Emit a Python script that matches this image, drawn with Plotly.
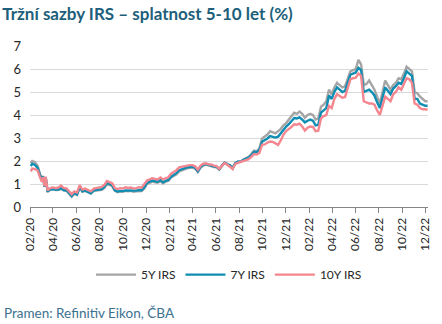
import plotly.graph_objects as go

dates = [
"2020-02-03","2020-02-07","2020-02-14","2020-02-21","2020-02-27","2020-03-03","2020-03-06","2020-03-10","2020-03-13","2020-03-18",
"2020-03-25","2020-04-01","2020-04-09","2020-04-17","2020-04-22","2020-04-29","2020-05-07","2020-05-14","2020-05-20","2020-05-27",
"2020-06-03","2020-06-10","2020-06-17","2020-06-24","2020-07-01","2020-07-09","2020-07-17","2020-07-24","2020-07-31","2020-08-07",
"2020-08-14","2020-08-20","2020-08-27","2020-09-03","2020-09-10","2020-09-17","2020-09-24","2020-10-01","2020-10-08","2020-10-15",
"2020-10-22","2020-10-29","2020-11-05","2020-11-12","2020-11-19","2020-11-26","2020-12-03","2020-12-10","2020-12-17","2020-12-24",
"2020-12-31","2021-01-07","2021-01-14","2021-01-21","2021-01-28","2021-02-04","2021-02-11","2021-02-18","2021-02-25","2021-03-04",
"2021-03-11","2021-03-18","2021-03-25","2021-04-01","2021-04-08","2021-04-15","2021-04-22","2021-04-29","2021-05-06","2021-05-13",
"2021-05-20","2021-05-27","2021-06-03","2021-06-10","2021-06-17","2021-06-24","2021-07-01","2021-07-08","2021-07-15","2021-07-22",
"2021-07-29","2021-08-05","2021-08-12","2021-08-19","2021-08-26","2021-09-02","2021-09-09","2021-09-16","2021-09-23","2021-09-30",
"2021-10-07","2021-10-14","2021-10-21","2021-10-28","2021-11-04","2021-11-11","2021-11-18","2021-11-25","2021-12-02","2021-12-09",
"2021-12-16","2021-12-23","2021-12-30","2022-01-06","2022-01-13","2022-01-20","2022-01-27","2022-02-03","2022-02-10","2022-02-17",
"2022-02-24","2022-03-03","2022-03-10","2022-03-17","2022-03-24","2022-03-31","2022-04-07","2022-04-14","2022-04-21","2022-04-28",
"2022-05-05","2022-05-12","2022-05-19","2022-05-26","2022-06-02","2022-06-09","2022-06-16","2022-06-23","2022-06-30","2022-07-07",
"2022-07-14","2022-07-21","2022-07-28","2022-08-04","2022-08-11","2022-08-18","2022-08-25","2022-09-01","2022-09-08","2022-09-15",
"2022-09-22","2022-09-29","2022-10-06","2022-10-13","2022-10-20","2022-10-27","2022-11-03","2022-11-10","2022-11-17","2022-11-24",
"2022-12-01","2022-12-07"]

irs5 = [
1.90,2.00,1.95,1.78,1.45,1.20,1.35,0.90,1.30,0.68,
0.75,0.78,0.74,0.75,0.80,0.72,0.70,0.58,0.45,0.58,
0.52,0.84,0.66,0.70,0.65,0.58,0.70,0.72,0.74,0.75,
0.84,1.00,0.96,0.90,0.70,0.64,0.68,0.66,0.70,0.68,
0.70,0.66,0.68,0.70,0.69,0.80,1.00,1.05,1.10,1.07,
1.05,1.12,1.03,1.10,1.14,1.28,1.36,1.42,1.55,1.60,
1.65,1.68,1.70,1.72,1.67,1.52,1.70,1.80,1.84,1.80,
1.78,1.74,1.72,1.62,1.78,1.92,1.86,1.80,1.66,1.90,
1.98,1.98,2.05,2.10,2.18,2.30,2.45,2.42,2.55,2.98,
3.05,3.15,3.30,3.25,3.20,3.30,3.40,3.55,3.65,3.80,
3.95,4.10,4.05,4.15,4.05,3.88,4.00,4.05,4.00,3.80,
3.85,4.35,4.45,4.60,5.10,4.90,5.20,5.40,5.30,5.20,
5.25,5.60,5.90,5.95,6.00,6.40,6.20,5.30,5.35,5.50,
5.30,5.10,4.80,4.50,5.00,5.50,5.30,5.10,5.30,5.40,
5.60,5.55,5.80,6.10,6.00,5.90,5.00,4.95,4.80,4.70,
4.60,4.60]

irs7 = [
1.78,1.88,1.83,1.70,1.39,1.18,1.33,0.88,1.30,0.67,
0.76,0.78,0.75,0.77,0.82,0.74,0.72,0.60,0.48,0.60,
0.55,0.88,0.68,0.72,0.67,0.60,0.72,0.74,0.76,0.78,
0.88,1.05,1.00,0.95,0.72,0.67,0.70,0.69,0.72,0.71,
0.73,0.69,0.71,0.74,0.73,0.86,1.05,1.10,1.15,1.12,
1.10,1.17,1.07,1.14,1.18,1.32,1.40,1.47,1.60,1.64,
1.70,1.72,1.74,1.75,1.70,1.55,1.75,1.84,1.87,1.83,
1.82,1.77,1.75,1.64,1.80,1.93,1.87,1.82,1.70,1.92,
1.97,1.97,2.05,2.10,2.15,2.26,2.40,2.38,2.48,2.84,
2.90,2.98,3.08,3.05,3.02,3.06,3.20,3.38,3.50,3.60,
3.72,3.87,3.85,3.90,3.80,3.68,3.75,3.80,3.75,3.55,
3.58,4.10,4.20,4.30,4.85,4.70,5.00,5.20,5.10,5.00,
5.05,5.40,5.75,5.80,5.85,6.05,5.95,5.00,5.05,5.10,
5.00,4.85,4.55,4.30,4.75,5.20,5.05,4.90,5.15,5.25,
5.40,5.35,5.60,5.90,5.80,5.70,4.70,4.70,4.50,4.45,
4.40,4.40]

irs10 = [
1.55,1.67,1.65,1.58,1.30,1.10,1.30,0.90,1.32,0.72,
0.82,0.85,0.82,0.86,0.93,0.83,0.80,0.68,0.56,0.68,
0.63,0.95,0.76,0.80,0.75,0.68,0.80,0.83,0.84,0.87,
0.97,1.13,1.08,1.03,0.82,0.78,0.82,0.80,0.86,0.83,
0.85,0.80,0.82,0.86,0.84,0.98,1.15,1.20,1.25,1.22,
1.20,1.28,1.20,1.25,1.29,1.45,1.52,1.60,1.72,1.75,
1.78,1.80,1.82,1.82,1.77,1.62,1.80,1.88,1.90,1.86,
1.85,1.80,1.78,1.66,1.80,1.92,1.84,1.75,1.66,1.88,
1.92,1.93,2.00,2.03,2.08,2.18,2.30,2.28,2.35,2.70,
2.72,2.80,2.85,2.83,2.78,2.70,2.90,3.15,3.30,3.38,
3.48,3.60,3.58,3.62,3.50,3.32,3.45,3.50,3.48,3.30,
3.32,3.85,3.95,4.00,4.40,4.30,4.70,4.90,4.82,4.75,
4.78,5.15,5.55,5.60,5.62,5.80,5.70,4.60,4.55,4.50,
4.50,4.45,4.20,4.00,4.40,4.80,4.70,4.60,4.90,5.00,
5.20,5.10,5.35,5.60,5.55,5.40,4.50,4.45,4.30,4.25,
4.25,4.22]

tick_dates = ["2020-02-01","2020-04-01","2020-06-01","2020-08-01","2020-10-01","2020-12-01",
              "2021-02-01","2021-04-01","2021-06-01","2021-08-01","2021-10-01","2021-12-01",
              "2022-02-01","2022-04-01","2022-06-01","2022-08-01","2022-10-01","2022-12-01"]
tick_text = ["02/20","04/20","06/20","08/20","10/20","12/20","02/21","04/21","06/21","08/21",
             "10/21","12/21","02/22","04/22","06/22","08/22","10/22","12/22"]

series = [("5Y IRS", irs5, "#A5A5A5"), ("7Y IRS", irs7, "#0F8DB3"), ("10Y IRS", irs10, "#F4868F")]

fig = go.Figure()
for name, vals, col in series:
    fig.add_trace(go.Scatter(x=dates, y=vals, name=name, mode="lines",
                             line=dict(color=col, width=2.4)))

fig.update_layout(
    width=442, height=324,
    margin=dict(l=30, r=10, t=46, b=117),
    paper_bgcolor="white", plot_bgcolor="white",
    font=dict(family="Lato, 'Open Sans', sans-serif", size=12, color="#262626"),
    title=dict(text="<b>Tržní sazby IRS – splatnost 5-10 let (%)</b>",
               x=0.005, xanchor="left", xref="container",
               y=0.957, yanchor="middle", yref="container",
               font=dict(family="Lato, sans-serif", size=17, color="#1D5F7B")),
    showlegend=True,
    legend=dict(orientation="h", x=0.5, xanchor="center", y=-0.42, yanchor="middle",
                font=dict(size=12, color="#262626"), itemwidth=40, tracegroupgap=0),
    xaxis=dict(type="date", range=["2020-02-01", "2022-12-08"],
               tickvals=tick_dates, ticktext=tick_text, tickangle=-90,
               showgrid=False, showline=True, linecolor="#868686", linewidth=1,
               ticks="outside", ticklen=5, tickcolor="#868686",
               tickfont=dict(size=12, color="#262626")),
    yaxis=dict(range=[0, 7], dtick=1, showgrid=True, gridcolor="#D9D9D9", gridwidth=1,
               zeroline=False, showline=False, ticks="", ticklabelstandoff=8,
               tickfont=dict(size=13, color="#262626")),
    annotations=[dict(text="Pramen: Refinitiv Eikon, ČBA", xref="paper", yref="paper",
                      x=-28/402, xanchor="left", y=-0.66, yanchor="middle", showarrow=False,
                      font=dict(size=13.5, color="#3C7290"))],
)

fig.write_html("out.html")
